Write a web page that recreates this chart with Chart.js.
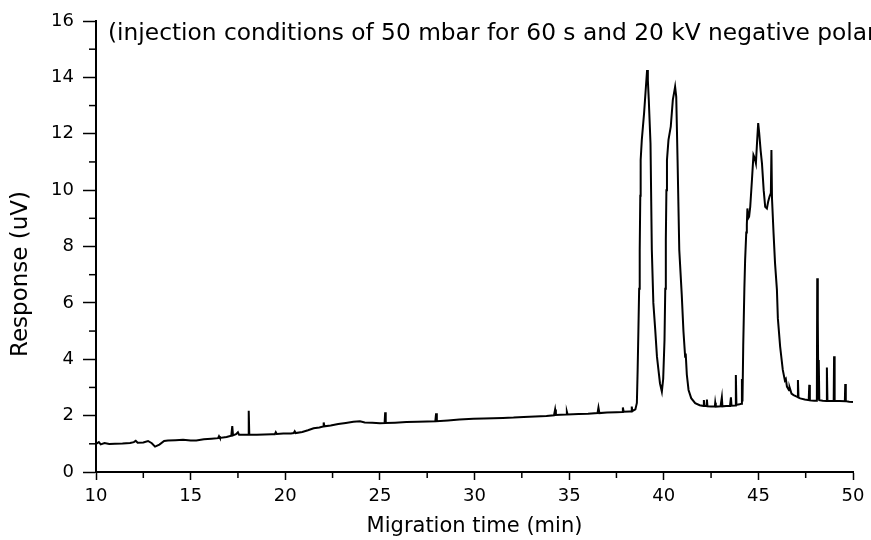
<!DOCTYPE html>
<html>
<head>
<meta charset="utf-8">
<script src="https://cdn.jsdelivr.net/npm/chart.js@4/dist/chart.umd.min.js"></script>
<style>
  html, body { margin: 0; padding: 0; background: #fff; }
  #wrap { width: 871px; height: 540px; position: relative; }
</style>
</head>
<body>
<div id="wrap"><canvas id="electropherogram"></canvas></div>
<script>
// Electropherogram trace: [migration time (min), response (uV)]
const baselineRun = [
  [10.00,1.00],[10.15,1.06],[10.25,0.98],[10.45,1.03],[10.70,0.99],[11.00,1.00],[11.40,1.01],
  [11.80,1.03],[12.00,1.06],[12.10,1.11],[12.20,1.04],[12.50,1.05],[12.75,1.10],[12.95,1.02],
  [13.12,0.90],[13.35,0.97],[13.60,1.10],[13.80,1.12],[14.20,1.13],[14.60,1.14],[15.00,1.12],
  [15.30,1.12],[15.70,1.16],[16.10,1.18],[16.45,1.20],[16.50,1.27],[16.55,1.21],[16.90,1.24],
  [17.15,1.29],[17.20,1.63],[17.24,1.30],[17.40,1.34],[17.50,1.41],[17.56,1.32],[17.90,1.32],
  [18.05,1.32],[18.07,2.17],[18.10,1.32],[18.50,1.32],[18.90,1.33],[19.30,1.34],[19.45,1.34],
  [19.50,1.41],[19.55,1.35],[19.90,1.37],[20.30,1.37],[20.45,1.38],[20.50,1.44],[20.55,1.38],
  [20.90,1.42],[21.20,1.48],[21.50,1.55],[21.80,1.58],[22.00,1.61],[22.03,1.76],[22.07,1.62],
  [22.40,1.65],[22.80,1.70],[23.20,1.74],[23.60,1.78],[23.95,1.80],[24.20,1.76],[24.60,1.75],
  [25.00,1.73],[25.25,1.74],[25.28,2.12],[25.31,1.74],[25.80,1.75],[26.40,1.77],[27.00,1.78],
  [27.50,1.79],[27.93,1.80],[27.97,2.08],[28.01,1.80],[28.60,1.83],[29.20,1.86],[29.94,1.89],
  [30.50,1.90],[31.00,1.91],[31.50,1.92],[32.06,1.93],[32.60,1.95],[33.20,1.97],[33.80,1.99],
  [34.20,2.01],[34.26,2.22],[34.30,2.02],[34.84,2.04],[34.88,2.14],[34.92,2.04],[35.50,2.06],
  [36.00,2.07],[36.50,2.09],[36.55,2.29],[36.60,2.09],[37.00,2.11],[37.50,2.12],[37.80,2.13],
  [37.84,2.29],[37.88,2.14],[38.20,2.15],[38.28,2.15],[38.31,2.32],[38.34,2.16],[38.50,2.22],
  [38.58,2.45]
];

const doubletPeaks = [
  [38.62,3.60],[38.66,5.00],[38.70,6.50],[38.73,7.88],[38.76,9.80],[38.78,11.07],[38.84,11.78],
  [38.90,12.25],[38.96,12.72],[39.04,13.50],[39.12,14.26],[39.16,13.90],[39.21,13.20],[39.23,12.84],
  [39.30,11.66],[39.37,7.88],[39.45,6.00],[39.55,5.04],[39.64,4.10],[39.72,3.62],[39.80,3.15],
  [39.90,2.85],[39.97,3.30],[40.04,4.68],[40.08,6.50],[40.11,8.23],[40.14,10.00],[40.17,11.07],
  [40.25,11.78],[40.37,12.25],[40.48,13.20],[40.57,13.55],[40.60,13.67],[40.66,13.31],[40.73,11.07],
  [40.82,7.88],[40.95,6.30],[41.04,5.00],[41.13,4.09],[41.16,4.20],[41.22,3.45],[41.31,2.91],
  [41.45,2.62],[41.66,2.44],[41.90,2.37],[42.10,2.34],[42.12,2.55],[42.16,2.34],[42.26,2.34],
  [42.28,2.57],[42.31,2.33],[42.50,2.32],[42.70,2.32],[42.72,2.46],[42.75,2.32],[43.00,2.33],
  [43.07,2.65],[43.10,2.33],[43.30,2.34],[43.50,2.34],[43.55,2.65],[43.58,2.35],[43.78,2.36],
  [43.81,3.44],[43.84,2.38],[44.00,2.40],[44.10,2.42],[44.13,3.30],[44.16,2.50]
];

const clusterPeak = [
  [44.20,4.50],[44.26,6.50],[44.30,7.52],[44.36,8.50],[44.39,8.76],[44.42,9.35],[44.46,9.00],
  [44.51,9.06],[44.57,9.41],[44.66,10.36],[44.74,11.25],[44.80,11.15],[44.87,10.95],[44.93,11.70],
  [44.99,12.38],[45.04,12.05],[45.12,11.40],[45.19,10.95],[45.28,10.00],[45.36,9.41],[45.45,9.35],
  [45.52,9.60],[45.59,9.77],[45.66,9.89],[45.69,11.42],[45.72,9.70],[45.80,8.50],[45.88,7.41],
  [45.98,6.46],[46.03,5.45],[46.15,4.45],[46.29,3.62],[46.40,3.25],[46.45,3.30],[46.51,3.03],
  [46.62,2.90],[46.65,3.00],[46.75,2.78],[46.86,2.73]
];

const tailSpikes = [
  [47.00,2.68],[47.07,2.66],[47.09,3.26],[47.12,2.64],[47.21,2.61],[47.45,2.57],[47.66,2.55],
  [47.69,3.09],[47.72,2.54],[47.95,2.53],[48.09,2.53],[48.11,6.87],[48.13,2.90],[48.15,5.39],
  [48.17,2.60],[48.19,3.97],[48.22,2.55],[48.40,2.53],[48.60,2.52],[48.62,3.71],[48.65,2.52],
  [48.85,2.52],[48.98,2.52],[49.00,4.11],[49.03,2.52],[49.30,2.52],[49.57,2.51],[49.59,3.12],
  [49.62,2.51],[49.80,2.49],[50.00,2.48]
];

// Axis tick values
const xMajorTicks = [10, 15, 20, 25, 30, 35, 40, 45, 50];
const xMinorTicks = [12.5, 17.5, 22.5, 27.5, 32.5, 37.5, 42.5, 47.5];
const yMajorTicks = [0, 2, 4, 6, 8, 10, 12, 14, 16];
const yMinorTicks = [1, 3, 5, 7, 9, 11, 13, 15];

const noteText = '(injection conditions of 50 mbar for 60 s and 20 kV negative polarity)';
const yTitle = 'Response (uV)';
const xTitle = 'Migration time (min)';

const trace = [...baselineRun, ...doubletPeaks, ...clusterPeak, ...tailSpikes]
  .map(([t, r]) => ({ x: t, y: r }));

const FONT = "'DejaVu Sans', sans-serif";

// Short outward minor ticks on both axes
const minorTickMarks = {
  id: 'minorTickMarks',
  afterDraw(chart) {
    const { ctx, scales: { x, y } } = chart;
    ctx.save();
    ctx.strokeStyle = '#000';
    ctx.lineWidth = 1.5;
    yMinorTicks.forEach(v => {
      const py = y.getPixelForValue(v);
      ctx.beginPath();
      ctx.moveTo(x.left - 7, py);
      ctx.lineTo(x.left, py);
      ctx.stroke();
    });
    xMinorTicks.forEach(v => {
      const px = x.getPixelForValue(v);
      ctx.beginPath();
      ctx.moveTo(px, y.bottom);
      ctx.lineTo(px, y.bottom + 6);
      ctx.stroke();
    });
    ctx.restore();
  }
};

// Injection note inside the plot and the rotated response title
const chartTexts = {
  id: 'chartTexts',
  afterDraw(chart) {
    const { ctx, chartArea } = chart;
    ctx.save();
    ctx.fillStyle = '#000';
    ctx.font = `23.3px ${FONT}`;
    ctx.textAlign = 'left';
    ctx.textBaseline = 'alphabetic';
    ctx.fillText(noteText, chartArea.left + 12, chartArea.top + 19);

    ctx.translate(21, 274);
    ctx.rotate(-Math.PI / 2);
    ctx.font = `23px ${FONT}`;
    ctx.textAlign = 'center';
    ctx.textBaseline = 'middle';
    ctx.fillText(yTitle, 0, 0);
    ctx.restore();
  }
};

new Chart(document.getElementById('electropherogram'), {
  type: 'line',
  data: {
    datasets: [{
      data: trace,
      borderColor: '#000',
      borderWidth: 2,
      pointRadius: 0,
      tension: 0,
      fill: false
    }]
  },
  options: {
    responsive: true,
    maintainAspectRatio: false,
    animation: false,
    parsing: true,
    layout: { padding: { left: 0, right: 18, top: 21, bottom: 0 } },
    plugins: {
      legend: { display: false },
      tooltip: { enabled: false },
      title: { display: false }
    },
    scales: {
      x: {
        type: 'linear',
        min: 10,
        max: 50,
        afterFit: s => { s.height = 68; },
        afterBuildTicks: s => { s.ticks = xMajorTicks.map(v => ({ value: v })); },
        ticks: {
          color: '#000',
          font: { family: FONT, size: 18 },
          padding: 6,
          maxRotation: 0,
          autoSkip: false
        },
        grid: {
          drawOnChartArea: false,
          drawTicks: true,
          tickLength: 8,
          tickColor: '#000',
          tickWidth: 1.5
        },
        border: { display: true, color: '#000', width: 2 },
        title: {
          display: true,
          text: xTitle,
          color: '#000',
          font: { family: FONT, size: 21 },
          padding: { top: 0, bottom: 1 }
        }
      },
      y: {
        type: 'linear',
        min: 0,
        max: 16,
        afterFit: s => { s.width = 96; },
        afterBuildTicks: s => { s.ticks = yMajorTicks.map(v => ({ value: v })); },
        ticks: {
          color: '#000',
          font: { family: FONT, size: 18 },
          padding: 9,
          autoSkip: false
        },
        grid: {
          drawOnChartArea: false,
          drawTicks: true,
          tickLength: 13,
          tickColor: '#000',
          tickWidth: 1.5
        },
        border: { display: true, color: '#000', width: 2 }
      }
    }
  },
  plugins: [minorTickMarks, chartTexts]
});
</script>
</body>
</html>
